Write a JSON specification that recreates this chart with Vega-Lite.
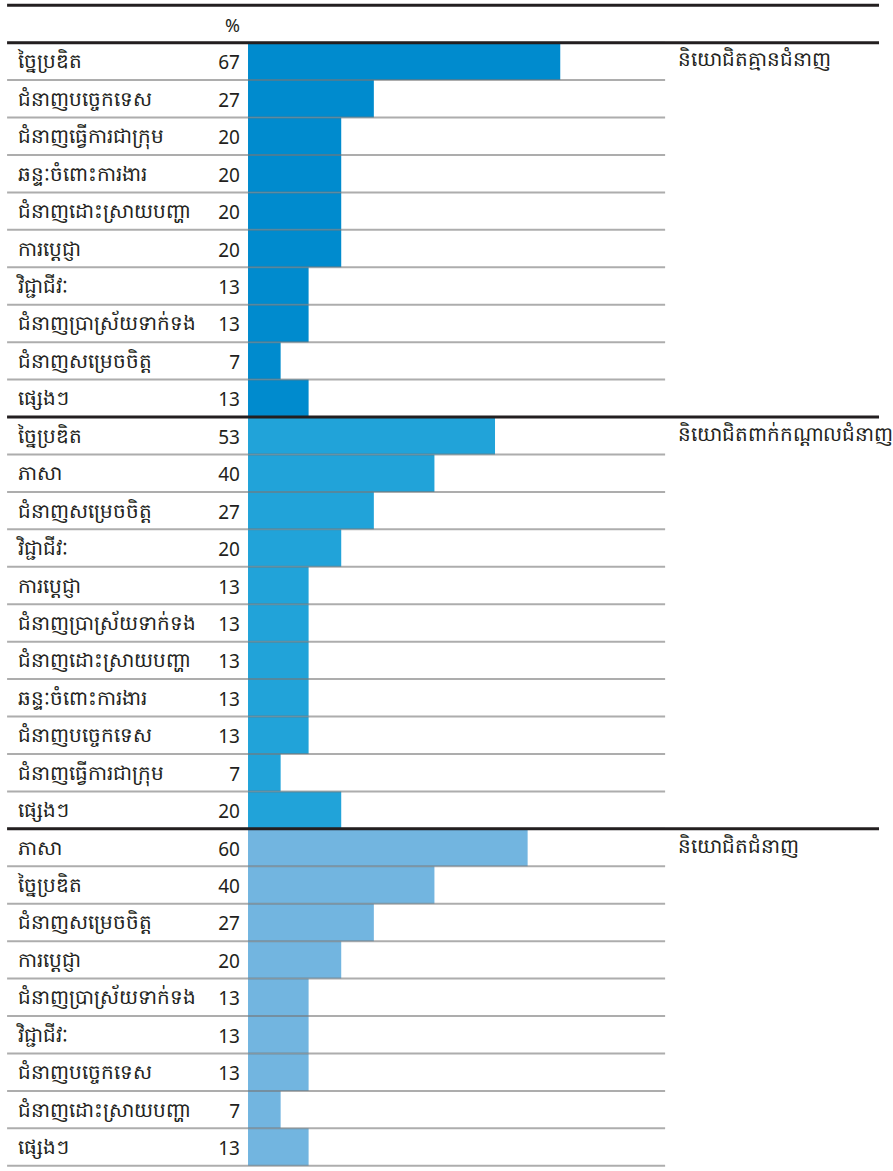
{
  "$schema": "https://vega.github.io/schema/vega-lite/v6.json",
  "width": 893,
  "height": 1171,
  "padding": 0,
  "autosize": {"type": "none"},
  "background": "white",
  "config": {"view": {"stroke": null}, "font": "Noto Sans"},
  "datasets": {
    "rows": [
      {"row": 1, "group": "g1", "label": "ច្នៃប្រឌិត", "value": 67},
      {"row": 2, "group": "g1", "label": "ជំនាញបច្ចេកទេស", "value": 27},
      {"row": 3, "group": "g1", "label": "ជំនាញធ្វើការជាក្រុម", "value": 20},
      {"row": 4, "group": "g1", "label": "ឆន្ទៈចំពោះការងារ", "value": 20},
      {"row": 5, "group": "g1", "label": "ជំនាញដោះស្រាយបញ្ហា", "value": 20},
      {"row": 6, "group": "g1", "label": "ការប្ដេជ្ញា", "value": 20},
      {"row": 7, "group": "g1", "label": "វិជ្ជាជីវៈ", "value": 13},
      {"row": 8, "group": "g1", "label": "ជំនាញប្រាស្រ័យទាក់ទង", "value": 13},
      {"row": 9, "group": "g1", "label": "ជំនាញសម្រេចចិត្ត", "value": 7},
      {"row": 10, "group": "g1", "label": "ផ្សេងៗ", "value": 13},
      {"row": 11, "group": "g2", "label": "ច្នៃប្រឌិត", "value": 53},
      {"row": 12, "group": "g2", "label": "ភាសា", "value": 40},
      {"row": 13, "group": "g2", "label": "ជំនាញសម្រេចចិត្ត", "value": 27},
      {"row": 14, "group": "g2", "label": "វិជ្ជាជីវៈ", "value": 20},
      {"row": 15, "group": "g2", "label": "ការប្ដេជ្ញា", "value": 13},
      {"row": 16, "group": "g2", "label": "ជំនាញប្រាស្រ័យទាក់ទង", "value": 13},
      {"row": 17, "group": "g2", "label": "ជំនាញដោះស្រាយបញ្ហា", "value": 13},
      {"row": 18, "group": "g2", "label": "ឆន្ទៈចំពោះការងារ", "value": 13},
      {"row": 19, "group": "g2", "label": "ជំនាញបច្ចេកទេស", "value": 13},
      {"row": 20, "group": "g2", "label": "ជំនាញធ្វើការជាក្រុម", "value": 7},
      {"row": 21, "group": "g2", "label": "ផ្សេងៗ", "value": 20},
      {"row": 22, "group": "g3", "label": "ភាសា", "value": 60},
      {"row": 23, "group": "g3", "label": "ច្នៃប្រឌិត", "value": 40},
      {"row": 24, "group": "g3", "label": "ជំនាញសម្រេចចិត្ត", "value": 27},
      {"row": 25, "group": "g3", "label": "ការប្ដេជ្ញា", "value": 20},
      {"row": 26, "group": "g3", "label": "ជំនាញប្រាស្រ័យទាក់ទង", "value": 13},
      {"row": 27, "group": "g3", "label": "វិជ្ជាជីវៈ", "value": 13},
      {"row": 28, "group": "g3", "label": "ជំនាញបច្ចេកទេស", "value": 13},
      {"row": 29, "group": "g3", "label": "ជំនាញដោះស្រាយបញ្ហា", "value": 7},
      {"row": 30, "group": "g3", "label": "ផ្សេងៗ", "value": 13}
    ],
    "groups": [
      {"row": 1, "t": "និយោជិតគ្មានជំនាញ"},
      {"row": 11, "t": "និយោជិតពាក់កណ្ដាលជំនាញ"},
      {"row": 22, "t": "និយោជិតជំនាញ"}
    ],
    "header": [{"row": 0, "t": "%"}],
    "seps": [{"row": 0}, {"row": 1}, {"row": 11}, {"row": 22}],
    "bottom": [{"row": 30}]
  },
  "layer": [
    {
      "data": {"name": "rows"},
      "mark": {"type": "bar"},
      "encoding": {
        "y": {"field": "row", "type": "ordinal", "axis": null,
              "scale": {"type": "band", "domain": [0,1,2,3,4,5,6,7,8,9,10,11,12,13,14,15,16,17,18,19,20,21,22,23,24,25,26,27,28,29,30], "paddingInner": 0, "paddingOuter": 0.14}},
        "x": {"field": "value", "type": "quantitative", "axis": null,
              "scale": {"domain": [-53.22, 138.4], "nice": false, "zero": false}},
        "x2": {"datum": 0},
        "color": {"field": "group", "type": "nominal", "legend": null,
                  "scale": {"domain": ["g1", "g2", "g3"], "range": ["#008bce", "#21a3d9", "#72b5e0"]}}
      }
    },
    {
      "data": {"name": "rows"},
      "mark": {"type": "rule", "color": "#777777", "opacity": 0.6, "strokeWidth": 2},
      "encoding": {
        "y": {"field": "row", "type": "ordinal", "bandPosition": 0, "axis": null, "scale": {"type": "band"}},
        "x": {"datum": -51.7},
        "x2": {"datum": 89.5}
      }
    },
    {
      "data": {"name": "bottom"},
      "mark": {"type": "rule", "color": "#777777", "opacity": 0.6, "strokeWidth": 2},
      "encoding": {
        "y": {"field": "row", "type": "ordinal", "bandPosition": 1, "axis": null, "scale": {"type": "band"}},
        "x": {"datum": -51.7},
        "x2": {"datum": 89.5}
      }
    },
    {
      "data": {"name": "seps"},
      "mark": {"type": "rule", "color": "#231f20", "strokeWidth": 3},
      "encoding": {
        "y": {"field": "row", "type": "ordinal", "bandPosition": 0, "axis": null, "scale": {"type": "band"}},
        "x": {"datum": -51.7},
        "x2": {"datum": 135.4}
      }
    },
    {
      "data": {"name": "rows"},
      "mark": {"type": "text", "align": "left", "baseline": "middle", "fontSize": 20, "dy": 1, "color": "#231f20"},
      "encoding": {
        "y": {"field": "row", "type": "ordinal", "axis": null, "scale": {"type": "band"}},
        "x": {"datum": -49.4},
        "text": {"field": "label"}
      }
    },
    {
      "data": {"name": "rows"},
      "mark": {"type": "text", "align": "right", "baseline": "middle", "fontSize": 19, "dy": 2, "color": "#231f20"},
      "encoding": {
        "y": {"field": "row", "type": "ordinal", "axis": null, "scale": {"type": "band"}},
        "x": {"datum": -1.72},
        "text": {"field": "value"}
      }
    },
    {
      "data": {"name": "header"},
      "mark": {"type": "text", "align": "right", "baseline": "middle", "fontSize": 18, "dy": 3, "color": "#231f20"},
      "encoding": {
        "y": {"field": "row", "type": "ordinal", "axis": null, "scale": {"type": "band"}},
        "x": {"datum": -1.72},
        "text": {"field": "t"}
      }
    },
    {
      "data": {"name": "groups"},
      "mark": {"type": "text", "align": "left", "baseline": "middle", "fontSize": 20, "dy": -1, "color": "#231f20"},
      "encoding": {
        "y": {"field": "row", "type": "ordinal", "axis": null, "scale": {"type": "band"}},
        "x": {"datum": 92.3},
        "text": {"field": "t"}
      }
    }
  ]
}
